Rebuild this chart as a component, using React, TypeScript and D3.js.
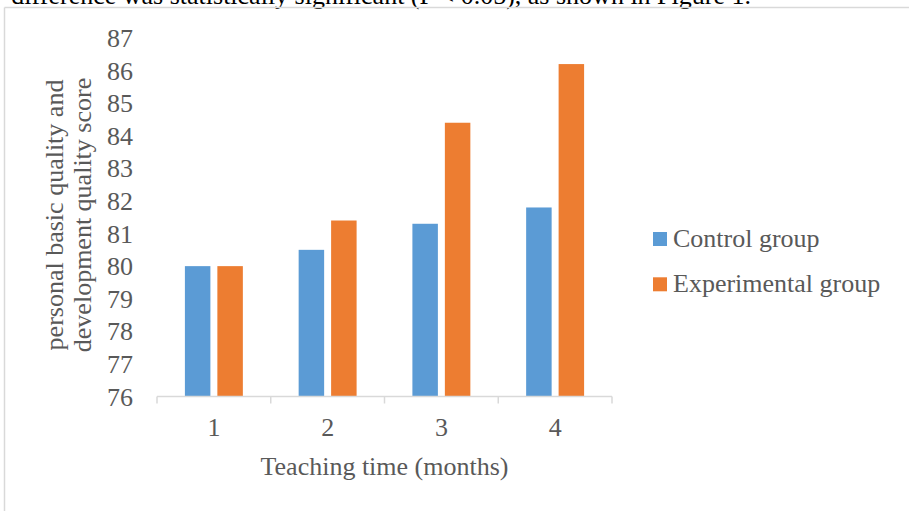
import React from "react";
import * as d3 from "d3";

const categories = ["1", "2", "3", "4"];
const seriesNames = ["Control group", "Experimental group"];
const controlValues = [80, 80.5, 81.3, 81.8];
const experimentalValues = [80, 81.4, 84.4, 86.2];
const yTicks = [76, 77, 78, 79, 80, 81, 82, 83, 84, 85, 86, 87];
const colors = ["#5B9BD5", "#ED7D31"];

export default function App() {
  const W = 910;
  const H = 511;
  const left = 157;
  const right = 612;
  const yBottom = 396.5;
  const yTop = 38;
  const font = "'Liberation Serif', 'Times New Roman', serif";
  const textColor = "#595959";

  const x = d3.scaleBand<string>().domain(categories).range([left, right]).padding(0);
  const cw = x.bandwidth();
  const outer = 27.9;
  const xi = d3
    .scaleBand<string>()
    .domain(seriesNames)
    .range([outer, cw - outer])
    .paddingInner(0.215)
    .paddingOuter(0);
  const y = d3.scaleLinear().domain([76, 87]).range([yBottom, yTop]);

  const series = [controlValues, experimentalValues];

  return (
    <svg
      width={W}
      height={H}
      style={{ position: "absolute", left: 0, top: 0, background: "#fff" }}
      fontFamily={font}
    >
      <rect x={0} y={0} width={W} height={H} fill="#fff" />
      <text x={751} y={4} textAnchor="end" fontSize={26} fill="#000">
        difference was statistically significant (P &lt; 0.05), as shown in Figure 1.
      </text>
      {/* chart frame */}
      <line x1={4.5} x2={4.5} y1={7.5} y2={H} stroke="#d9d9d9" strokeWidth={1.5} />
      <line x1={4.5} x2={909} y1={7.5} y2={7.5} stroke="#d9d9d9" strokeWidth={1.5} />

      {/* y tick labels */}
      {yTicks.map((t) => (
        <text
          key={t}
          x={133}
          y={y(t)}
          dy="0.35em"
          textAnchor="end"
          fontSize={26}
          fill={textColor}
        >
          {t}
        </text>
      ))}

      {/* y axis title */}
      <g transform="translate(63,215) rotate(-90)">
        <text x={0} y={0} textAnchor="middle" fontSize={26} fill={textColor}>
          personal basic quality and
        </text>
        <text x={0} y={28} textAnchor="middle" fontSize={26} fill={textColor}>
          development quality score
        </text>
      </g>

      {/* bars */}
      {categories.map((c, i) => (
        <g key={c} transform={`translate(${x(c)},0)`}>
          {seriesNames.map((s, j) => (
            <rect
              key={s}
              x={xi(s)}
              y={y(series[j][i])}
              width={xi.bandwidth()}
              height={yBottom - y(series[j][i])}
              fill={colors[j]}
            />
          ))}
        </g>
      ))}

      {/* x axis */}
      <line x1={left} x2={right} y1={yBottom} y2={yBottom} stroke="#d9d9d9" strokeWidth={1.5} />
      {[...categories.map((c) => x(c) as number), right].map((t, i) => (
        <line key={i} x1={t} x2={t} y1={yBottom} y2={yBottom + 7} stroke="#d9d9d9" strokeWidth={1.5} />
      ))}
      {categories.map((c) => (
        <text
          key={c}
          x={(x(c) as number) + cw / 2}
          y={436}
          textAnchor="middle"
          fontSize={26}
          fill={textColor}
        >
          {c}
        </text>
      ))}
      <text x={(left + right) / 2} y={475} textAnchor="middle" fontSize={26} fill={textColor}>
        Teaching time (months)
      </text>

      {/* legend */}
      {seriesNames.map((s, j) => (
        <g key={s} transform={`translate(653,${232 + j * 45.3})`}>
          <rect x={0} y={0} width={14} height={14} fill={colors[j]} />
          <text x={20} y={14.5} fontSize={26} fill={textColor}>
            {s}
          </text>
        </g>
      ))}
    </svg>
  );
}
